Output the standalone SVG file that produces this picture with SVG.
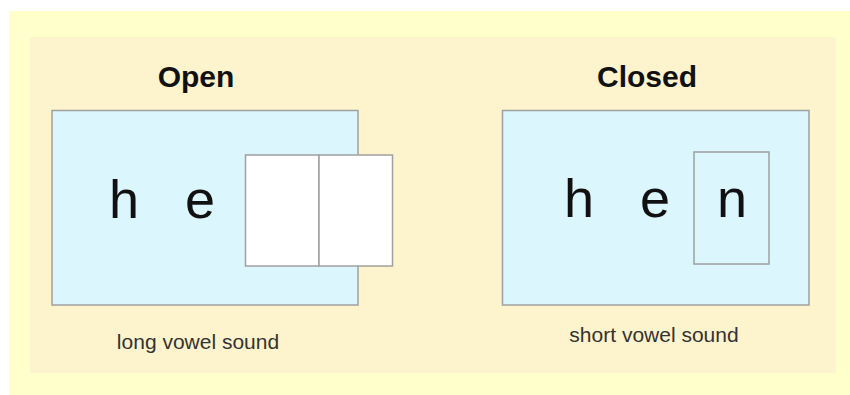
<svg xmlns="http://www.w3.org/2000/svg" width="850" height="395" viewBox="0 0 850 395">
  <style>
    .box { fill: #dcf6fe; stroke: #a0a0a0; stroke-width: 1.5; }
    .white { fill: #ffffff; stroke: #a0a0a0; stroke-width: 1.5; }
    .title { font-family: "Liberation Sans", Arial, sans-serif; font-weight: bold; font-size: 30px; fill: #111; text-anchor: middle; }
    .letter { font-family: "Liberation Sans", Arial, sans-serif; font-size: 54px; fill: #111; text-anchor: middle; }
    .label { font-family: "Liberation Sans", Arial, sans-serif; font-size: 21px; fill: #333; text-anchor: middle; }
  </style>
  <rect x="9" y="11" width="841" height="384" fill="#ffffcc"/>
  <rect x="30" y="37" width="806" height="336" fill="#fdf3cc"/>
  <g id="open">
    <text class="title" x="196" y="87">Open</text>
    <rect class="box" x="52" y="110.5" width="306" height="194.5"/>
    <text class="letter" x="124" y="218">h</text>
    <text class="letter" x="200" y="218">e</text>
    <rect class="white" x="245.5" y="155" width="73.5" height="111"/>
    <rect class="white" x="319" y="155" width="73.5" height="111"/>
    <text class="label" x="198" y="349">long vowel sound</text>
  </g>
  <g id="closed">
    <text class="title" x="647" y="87">Closed</text>
    <rect class="box" x="502.5" y="110.5" width="306.5" height="194.5"/>
    <text class="letter" x="579" y="217">h</text>
    <text class="letter" x="655" y="217">e</text>
    <rect class="box" x="694" y="152" width="75" height="112"/>
    <text class="letter" x="732" y="217">n</text>
    <text class="label" x="654" y="342">short vowel sound</text>
  </g>
</svg>
